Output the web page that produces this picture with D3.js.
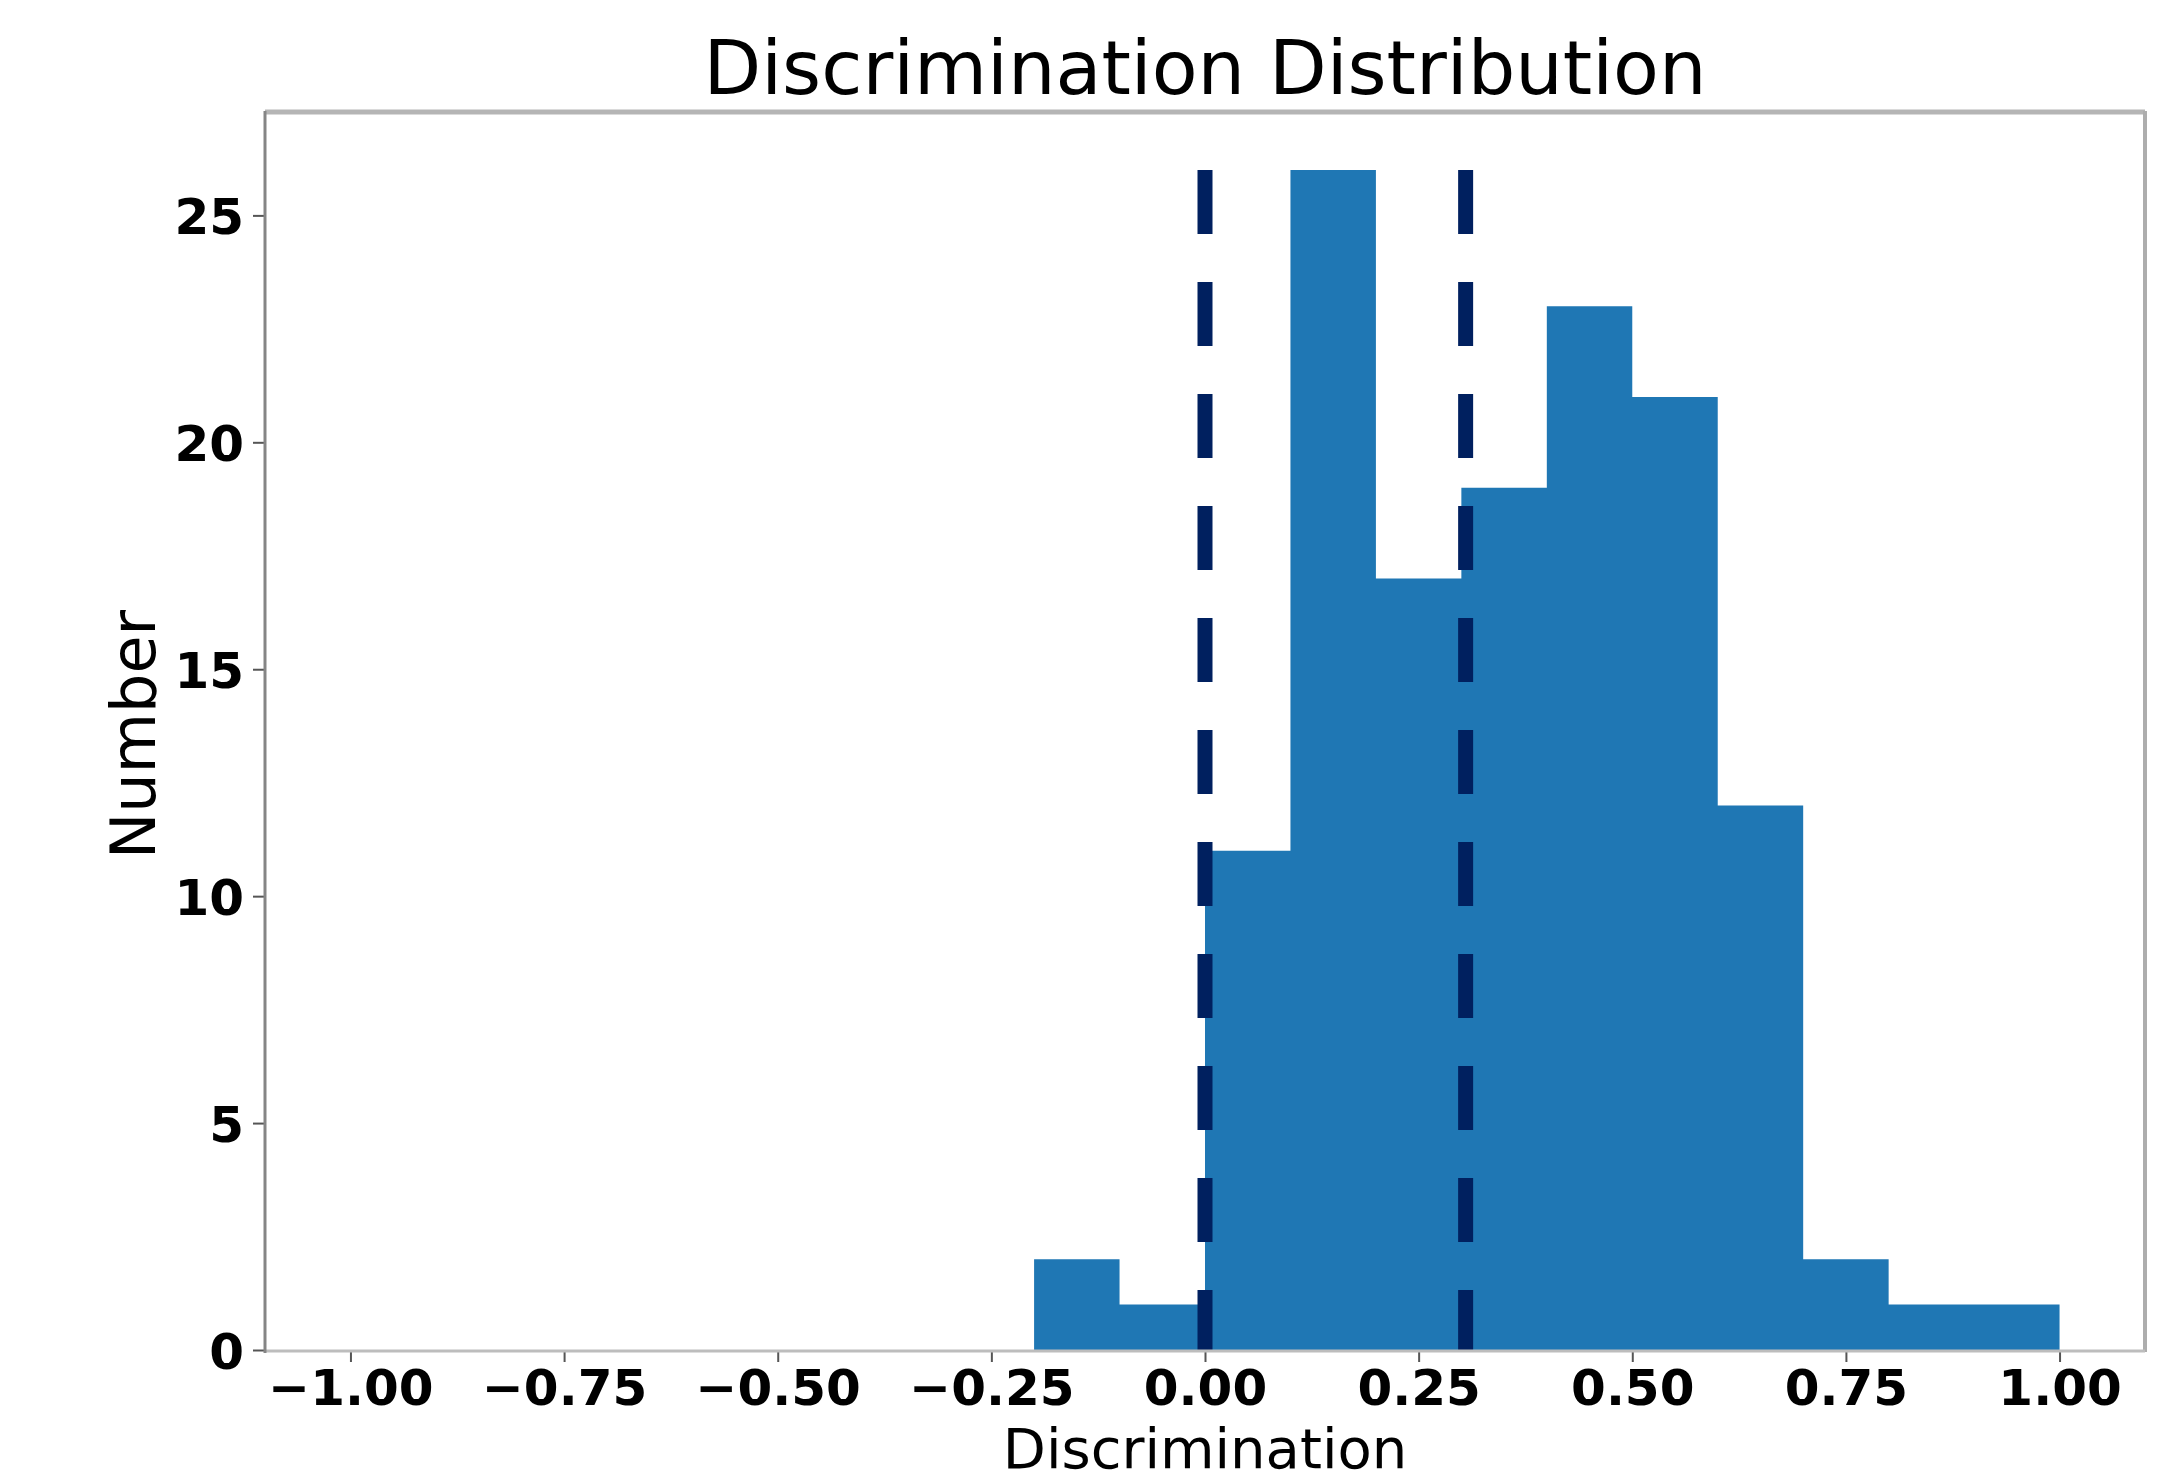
<!DOCTYPE html>
<html>
<head>
<meta charset="utf-8">
<script src="https://cdn.jsdelivr.net/npm/d3@7"></script>
<style>
  html, body { margin: 0; padding: 0; background: #fff; }
  svg { display: block; font-family: "DejaVu Sans", sans-serif; }
</style>
</head>
<body>
<div id="chart"></div>
<script>
// histogram data
const binEdges = [-1.0, -0.9, -0.8, -0.7, -0.6, -0.5, -0.4, -0.3, -0.2, -0.1, 0.0,
                  0.1, 0.2, 0.3, 0.4, 0.5, 0.6, 0.7, 0.8, 0.9, 1.0];
const counts = [0, 0, 0, 0, 0, 0, 0, 0, 2, 1, 11, 26, 17, 19, 23, 21, 12, 2, 1, 1];
const cutLines = [0.0, 0.305];
const cutLineTop = 26;
const xTicks = [-1.0, -0.75, -0.5, -0.25, 0.0, 0.25, 0.5, 0.75, 1.0];
const yTicks = [0, 5, 10, 15, 20, 25];

const width = 2179, height = 1482;
const plot = { left: 265, right: 2145, top: 111, bottom: 1350 };

const svg = d3.select("#chart").append("svg")
  .attr("width", width)
  .attr("height", height);

const x = d3.scaleLinear().domain([-1.1, 1.1]).range([plot.left, plot.right]);
const y = d3.scaleLinear().domain([0, 27.3]).range([plot.bottom, plot.top]);

// bars as one stepped outline so there are no seams between neighbours
const bins = counts.map((c, i) => ({ x0: binEdges[i], x1: binEdges[i + 1], n: c }));
const stepPts = [];
bins.forEach(d => { stepPts.push([d.x0, d.n]); stepPts.push([d.x1, d.n]); });
svg.append("path")
  .datum(stepPts)
  .attr("fill", "#1f77b4")
  .attr("d", d3.area()
    .x(d => x(d[0]))
    .y0(y(0))
    .y1(d => y(d[1])));

// dashed vertical lines, dash pattern starts at the top
svg.append("g").selectAll("line")
  .data(cutLines)
  .join("line")
  .attr("x1", d => x(d)).attr("x2", d => x(d))
  .attr("y1", y(cutLineTop)).attr("y2", y(0))
  .attr("stroke", "#00205f")
  .attr("stroke-width", 15)
  .attr("stroke-dasharray", "64,48");

// axes
const fmtX = d3.format(".2f");
const xAxis = svg.append("g")
  .attr("transform", `translate(0,${plot.bottom})`)
  .call(d3.axisBottom(x).tickValues(xTicks).tickFormat(fmtX).tickSize(12).tickPadding(7));
const yAxis = svg.append("g")
  .attr("transform", `translate(${plot.left},0)`)
  .call(d3.axisLeft(y).tickValues(yTicks).tickFormat(d3.format("d")).tickSize(12).tickPadding(9));

[xAxis, yAxis].forEach(a => {
  a.select(".domain").remove();
  a.selectAll(".tick line").attr("stroke", "#555").attr("stroke-width", 2);
  a.selectAll(".tick text")
    .attr("fill", "#000")
    .style("font-family", "DejaVu Sans")
    .style("font-size", "50px")
    .style("font-weight", "bold");
});
yAxis.selectAll(".tick text").attr("dy", "0.37em");

// spines
svg.append("line").attr("x1", plot.left).attr("x2", plot.right)
  .attr("y1", plot.top + 1).attr("y2", plot.top + 1)
  .attr("stroke", "#b5b5b5").attr("stroke-width", 5);
svg.append("line").attr("x1", plot.right).attr("x2", plot.right)
  .attr("y1", plot.top).attr("y2", plot.bottom + 2)
  .attr("stroke", "#adadad").attr("stroke-width", 4);
svg.append("line").attr("x1", plot.left).attr("x2", plot.right)
  .attr("y1", plot.bottom + 1).attr("y2", plot.bottom + 1)
  .attr("stroke", "#bdbdbd").attr("stroke-width", 3);
svg.append("line").attr("x1", plot.left).attr("x2", plot.left)
  .attr("y1", plot.top).attr("y2", plot.bottom + 3)
  .attr("stroke", "#858585").attr("stroke-width", 3);

// title and labels
const cx = (plot.left + plot.right) / 2;
svg.append("text")
  .attr("x", cx).attr("y", 94)
  .attr("text-anchor", "middle")
  .style("font-size", "75px")
  .text("Discrimination Distribution");

// x label sits at the bottom edge; kept just inside the page
svg.append("text")
  .attr("x", cx).attr("y", 1468)
  .attr("text-anchor", "middle")
  .style("font-size", "56px")
  .text("Discrimination");

svg.append("text")
  .attr("transform", `translate(155,${(plot.top + plot.bottom) / 2 + 4}) rotate(-90)`)
  .attr("text-anchor", "middle")
  .style("font-size", "62px")
  .text("Number");
</script>
</body>
</html>
